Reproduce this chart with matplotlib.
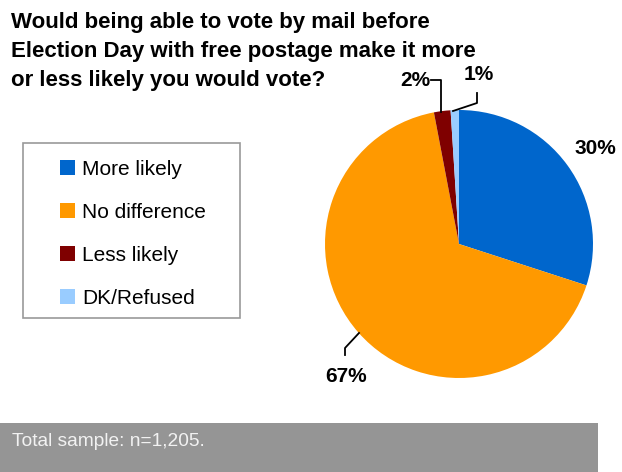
import matplotlib.pyplot as plt
from matplotlib.patches import Rectangle

plt.rcParams['font.family'] = ['Liberation Sans', 'DejaVu Sans']

# data
categories = ['More likely', 'No difference', 'Less likely', 'DK/Refused']
values = [30, 67, 2, 1]
colors = ['#0066CC', '#FF9900', '#7F0000', '#99CCFF']
title_lines = ['Would being able to vote by mail before',
               'Election Day with free postage make it more',
               'or less likely you would vote?']
footnote = 'Total sample: n=1,205.'

W, H = 622, 472
fig = plt.figure(figsize=(W / 100, H / 100), dpi=100)
ax = fig.add_axes([0, 0, 1, 1])


def py(y):
    # pixel row (from top) to axis y
    return H - y


# pie
wedges, _ = ax.pie(values, colors=colors, startangle=90, counterclock=False,
                   center=(459, py(244)), radius=134,
                   wedgeprops=dict(linewidth=0))
ax.set_xlim(0, W)
ax.set_ylim(0, H)
ax.set_aspect('auto')
ax.axis('off')

# percentage labels
lab = dict(fontsize=15, fontweight='bold', ha='center', va='center')
label_pos = [(595, 148), (346, 377), (415, 80), (479, 75)]
for v, (x, y) in zip(values, label_pos):
    ax.text(x, py(y), f'{v}%', **lab)

# leader lines
leaders = [
    [(345, 355), (345, 348), (359, 333)],
    [(431, 80), (441, 80), (441, 112)],
    [(477, 93), (477, 103), (453, 111)],
]
for pts in leaders:
    ax.plot([p[0] for p in pts], [py(p[1]) for p in pts], color='black', linewidth=1.3)

# title
for i, line in enumerate(title_lines):
    ax.text(11, py(28 + 29 * i), line, fontsize=16, fontweight='bold',
            ha='left', va='baseline')

# legend box
ax.add_patch(Rectangle((23, py(318)), 217, 175, facecolor='white',
                       edgecolor='#999999', linewidth=1.2))
leg = ax.legend(wedges, categories, loc='upper left',
                bbox_to_anchor=(60 / W, 1 - 160 / H), bbox_transform=fig.transFigure,
                frameon=False, fontsize=15, handlelength=0.72, handleheight=0.72,
                handletextpad=0.34, labelspacing=1.15, borderpad=0, borderaxespad=0)

# footer band
ax.add_patch(Rectangle((0, 0), 598, py(423), facecolor='#959595', edgecolor='none'))
ax.text(12, py(442), footnote, fontsize=13.8, color='#F2F2F2', ha='left', va='center')

plt.savefig('out.png', dpi=100)
plt.close()
